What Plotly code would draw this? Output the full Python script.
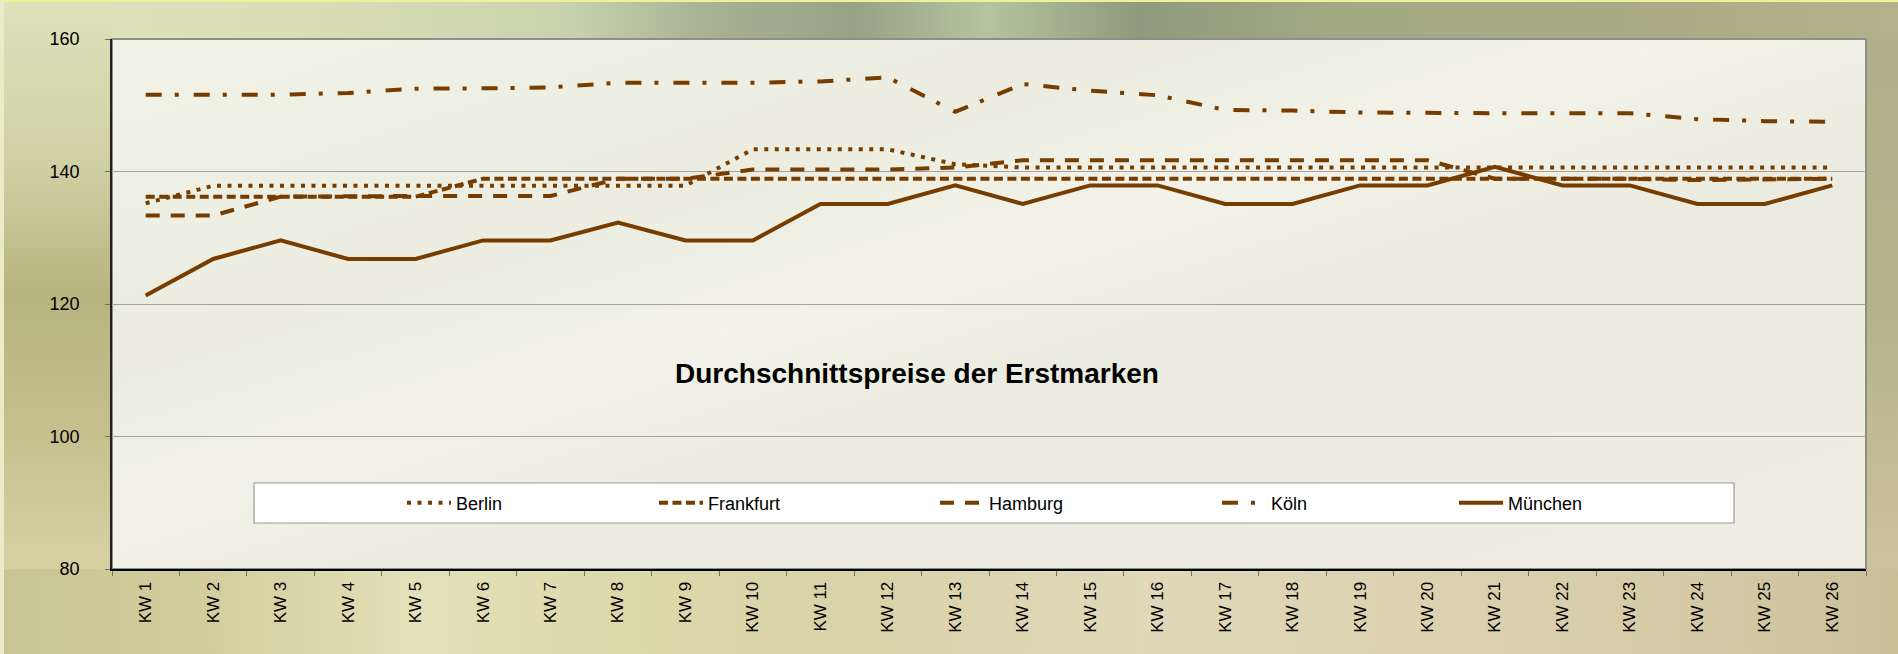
import base64
import plotly.graph_objects as go

weeks = ["KW 1", "KW 2", "KW 3", "KW 4", "KW 5", "KW 6", "KW 7", "KW 8", "KW 9", "KW 10",
         "KW 11", "KW 12", "KW 13", "KW 14", "KW 15", "KW 16", "KW 17", "KW 18", "KW 19",
         "KW 20", "KW 21", "KW 22", "KW 23", "KW 24", "KW 25", "KW 26"]

berlin = [135.2, 137.85, 137.85, 137.85, 137.85, 137.85, 137.85, 137.85, 137.85, 143.35,
          143.35, 143.35, 141.1, 140.6, 140.6, 140.6, 140.6, 140.6, 140.6, 140.6,
          140.6, 140.6, 140.6, 140.6, 140.6, 140.6]
frankfurt = [136.2, 136.2, 136.2, 136.2, 136.2, 138.9, 138.9, 138.9, 138.9, 138.9,
             138.9, 138.9, 138.9, 138.9, 138.9, 138.9, 138.9, 138.9, 138.9, 138.9,
             138.9, 138.9, 138.9, 138.9, 138.9, 138.9]
hamburg = [133.35, 133.35, 136.2, 136.3, 136.3, 136.3, 136.3, 138.9, 138.9, 140.3,
           140.3, 140.3, 140.6, 141.7, 141.7, 141.7, 141.7, 141.7, 141.7, 141.7,
           138.9, 138.9, 138.9, 138.7, 138.8, 138.9]
koeln = [151.6, 151.6, 151.6, 151.85, 152.5, 152.55, 152.7, 153.4, 153.4, 153.4,
         153.6, 154.2, 149.0, 153.2, 152.2, 151.5, 149.3, 149.2, 148.9, 148.8,
         148.8, 148.8, 148.8, 147.9, 147.6, 147.5]
muenchen = [121.3, 126.8, 129.6, 126.8, 126.8, 129.6, 129.6, 132.3, 129.6, 129.6,
            135.1, 135.1, 137.9, 135.1, 137.9, 137.9, 135.1, 135.1, 137.9, 137.9,
            140.7, 137.9, 137.9, 135.1, 135.1, 137.9]

series_names = ["Berlin", "Frankfurt", "Hamburg", "Köln", "München"]
series_values = [berlin, frankfurt, hamburg, koeln, muenchen]
y_ticks = [80, 100, 120, 140, 160]
title_text = "Durchschnittspreise der Erstmarken"

# ---------------- style / layout ----------------
W, H = 1898, 654
L, R, T, B = 112, 1866, 39, 569          # plot area in pixels
PW, PH = R - L, B - T
LINE_COLOR = "#763c00"
FONT = "Liberation Sans, Arial, sans-serif"

dashes = ["4px,6.5px", "9px,4.5px", "14px,11px", "16px,13px,4px,15px", "solid"]
legend_px = [408, 660, 941, 1223, 1460]   # legend entry symbol start (px)
legend_ypx = 503


def px_x(px):
    return (px - L) / PW


def px_y(py):
    return (B - py) / PH


bg_svg = f'''<svg xmlns="http://www.w3.org/2000/svg" width="{W}" height="{H}" viewBox="0 0 {W} {H}" preserveAspectRatio="none">
<defs>
 <linearGradient id="top" x1="0" y1="0" x2="1" y2="0">
  <stop offset="0" stop-color="#dfe2bc"/>
  <stop offset="0.17" stop-color="#d9ddb6"/>
  <stop offset="0.3" stop-color="#c9d2ae"/>
  <stop offset="0.37" stop-color="#a9b293"/>
  <stop offset="0.45" stop-color="#98a285"/>
  <stop offset="0.52" stop-color="#b3c49f"/>
  <stop offset="0.6" stop-color="#909a7c"/>
  <stop offset="0.7" stop-color="#a2a884"/>
  <stop offset="0.85" stop-color="#a9ab86"/>
  <stop offset="1" stop-color="#b3b18a"/>
 </linearGradient>
 <linearGradient id="left" x1="0" y1="0" x2="0" y2="1">
  <stop offset="0" stop-color="#dfe2ba"/>
  <stop offset="0.25" stop-color="#cfd0a4"/>
  <stop offset="0.45" stop-color="#b8b47f"/>
  <stop offset="0.65" stop-color="#c4bf8d"/>
  <stop offset="0.85" stop-color="#d6d0a2"/>
  <stop offset="1" stop-color="#cfc898"/>
 </linearGradient>
 <linearGradient id="bottom" x1="0" y1="0" x2="1" y2="0">
  <stop offset="0" stop-color="#c9c493"/>
  <stop offset="0.1" stop-color="#d2cc9c"/>
  <stop offset="0.22" stop-color="#e4e0b8"/>
  <stop offset="0.33" stop-color="#ddd8aa"/>
  <stop offset="0.45" stop-color="#d9d2a8"/>
  <stop offset="0.6" stop-color="#e0d8b8"/>
  <stop offset="0.75" stop-color="#dcd2b0"/>
  <stop offset="0.9" stop-color="#d6caa6"/>
  <stop offset="1" stop-color="#c9bf97"/>
 </linearGradient>
 <linearGradient id="right" x1="0" y1="0" x2="0" y2="1">
  <stop offset="0" stop-color="#b0ae88"/>
  <stop offset="0.5" stop-color="#b6b28a"/>
  <stop offset="1" stop-color="#cdc29c"/>
 </linearGradient>
 <linearGradient id="plot" x1="0" y1="0" x2="1" y2="1">
  <stop offset="0" stop-color="#f1f3e7"/>
  <stop offset="0.3" stop-color="#ecede0"/>
  <stop offset="0.45" stop-color="#f2f2e8"/>
  <stop offset="0.6" stop-color="#ebebdf"/>
  <stop offset="1" stop-color="#f0eee2"/>
 </linearGradient>
</defs>
<rect x="0" y="0" width="{W}" height="{H}" fill="url(#top)"/>
<rect x="0" y="0" width="{L}" height="{H}" fill="url(#left)"/>
<rect x="0" y="{B}" width="{W}" height="{H - B}" fill="url(#bottom)"/>
<rect x="{R}" y="{T}" width="{W - R}" height="{B - T}" fill="url(#right)"/>
<rect x="0" y="0" width="{W}" height="2" fill="#eef09a"/>
<rect x="0" y="0" width="4" height="{H}" fill="#e9ecc4"/>
<rect x="{L}" y="{T}" width="{PW}" height="{PH}" fill="url(#plot)"/>
</svg>'''
bg_uri = "data:image/svg+xml;base64," + base64.b64encode(bg_svg.encode("utf-8")).decode("ascii")

fig = go.Figure()
for i, (name, vals) in enumerate(zip(series_names, series_values)):
    fig.add_trace(go.Scatter(
        x=weeks, y=vals, name=name, mode="lines",
        line=dict(color=LINE_COLOR, width=4, dash=dashes[i]),
        legend="legend" if i == 0 else f"legend{i + 1}",
        hoverinfo="x+y+name",
    ))

legend_common = dict(
    orientation="h", bgcolor="rgba(0,0,0,0)", borderwidth=0,
    font=dict(family=FONT, size=18, color="#000000"),
    itemwidth=44, xanchor="left", yanchor="middle",
    y=px_y(legend_ypx), traceorder="normal",
)
legend_layouts = {}
for i in range(len(series_names)):
    key = "legend" if i == 0 else f"legend{i + 1}"
    legend_layouts[key] = dict(legend_common, x=px_x(legend_px[i] - 6))

fig.update_layout(
    width=W, height=H,
    margin=dict(l=L, r=W - R, t=T, b=H - B, pad=0),
    paper_bgcolor="#c8c89c",
    plot_bgcolor="rgba(0,0,0,0)",
    font=dict(family=FONT, color="#000000"),
    showlegend=True,
    title=dict(text=title_text, x=px_x(917), y=px_y(373), xref="paper", yref="paper",
               xanchor="center", yanchor="middle",
               font=dict(family=FONT, size=28, color="#000000", weight="bold")),
    images=[dict(source=bg_uri, xref="paper", yref="paper",
                 x=px_x(0), y=px_y(0), sizex=W / PW, sizey=H / PH,
                 sizing="stretch", xanchor="left", yanchor="top", layer="below")],
    shapes=[
        dict(type="rect", xref="paper", yref="paper", x0=0, x1=1, y0=0, y1=1,
             line=dict(color="#8e8e8e", width=2), fillcolor="rgba(0,0,0,0)", layer="below"),
        dict(type="rect", xref="paper", yref="paper",
             x0=px_x(254), x1=px_x(1734), y0=px_y(523), y1=px_y(483),
             line=dict(color="#9a9a9a", width=1.2), fillcolor="#ffffff", layer="below"),
    ],
    xaxis=dict(
        type="category", categoryorder="array", categoryarray=weeks,
        range=[-0.5, len(weeks) - 0.5],
        showgrid=False, zeroline=False,
        showline=True, linecolor="#000000", linewidth=2,
        ticks="outside", tickson="boundaries", ticklen=5, tickcolor="#707070", tickwidth=1,
        tickangle=-90, ticklabelstandoff=4,
        tickfont=dict(family=FONT, size=17, color="#000000"),
    ),
    yaxis=dict(
        range=[80, 160], tickmode="array", tickvals=y_ticks,
        ticktext=[str(v) for v in y_ticks],
        showgrid=True, gridcolor="#a3a3a3", gridwidth=1, zeroline=False,
        showline=True, linecolor="#202020", linewidth=1.5,
        ticks="outside", ticklen=5, tickcolor="#707070", tickwidth=1,
        ticklabelstandoff=22,
        tickfont=dict(family=FONT, size=18, color="#000000"),
    ),
    **legend_layouts,
)

fig.write_html("out.html", include_plotlyjs=True,
               config={"displayModeBar": False},
               post_script="document.body.style.margin='0';document.body.style.overflow='hidden';")
